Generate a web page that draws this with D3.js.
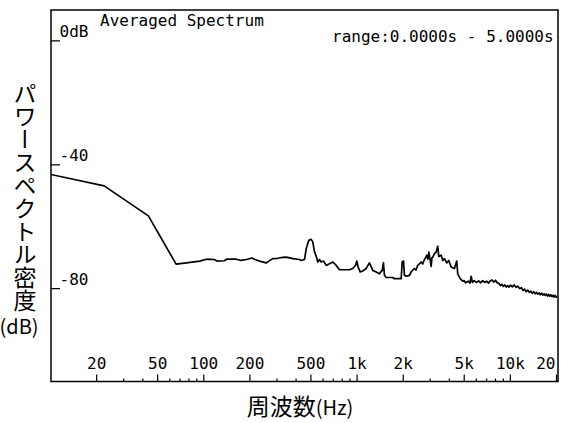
<!DOCTYPE html>
<html lang="ja">
<head>
<meta charset="utf-8">
<title>Averaged Spectrum</title>
<script src="https://cdn.jsdelivr.net/npm/d3@7"></script>
<style>
    html, body { margin: 0; padding: 0; background: #fff; }
    svg { display: block; }
    .mono { font-family: "DejaVu Sans Mono", monospace; font-size: 16px; fill: #000; }
    .jp { font-family: "Noto Sans CJK JP", sans-serif; fill: #000; }
</style>
</head>
<body>
<div id="chart"></div>
<script>
//--------------------------------------------------
// data
//--------------------------------------------------

// spectrum (frequency in Hz / level in dB)
const spectrumFreq = [
    10, 22.4, 43.5, 66, 77, 94, 104, 117, 122, 136, 141, 163, 175, 190, 206, 216, 231, 255, 272, 282,
    302, 336, 353, 381, 421, 432, 454, 466, 484, 502, 514, 528, 541, 554, 568, 583, 604, 629, 660, 695,
    731, 768, 892, 937, 977, 996, 1016, 1047, 1089, 1145, 1204, 1235, 1265, 1333, 1400, 1458, 1486, 1509, 1549, 1710,
    1754, 1940, 1969, 2009, 2037, 2089, 2197, 2253, 2366, 2420, 2488, 2550, 2618, 2680, 2752, 2800, 2851, 2900, 2938, 3000,
    3044, 3080, 3119, 3199, 3281, 3361, 3411, 3538, 3624, 3717, 3846, 3963, 4108, 4316, 4470, 4536, 4707, 4893,
    5000, 5100, 5300, 5450, 5548, 5650, 5800, 6000, 6200, 6400, 6600, 6800, 7000, 7200, 7400, 7600, 7800, 8000,
    8200, 8400, 8600, 8800, 9000, 9200, 9400, 9600, 9800, 10000, 10300, 10600, 10900, 11200, 11500, 11800, 12100, 12400,
    12700, 13000, 13300, 13600, 13900, 14200, 14500, 14800, 15100, 15400, 15700, 16000, 16300, 16600, 16900, 17200, 17500, 17800,
    18100, 18400, 18700, 19000, 19300, 19600, 19900, 20000
];
const spectrumDb = [
    -43.1, -46.8, -56.5, -72.1, -71.7, -71.1, -70.5, -70.6, -71.1, -71.0, -70.5, -70.5, -70.9, -70.6, -70.1, -70.6, -71.1, -71.7, -70.8, -70.3,
    -70.2, -69.8, -69.9, -70.3, -70.6, -70.9, -70.6, -67.1, -64.4, -64.1, -64.9, -68.2, -69.5, -71.4, -70.6, -71.4, -71.1, -72.5, -72.0, -71.4,
    -72.5, -73.9, -73.9, -73.5, -72.5, -71.1, -73.0, -74.6, -74.3, -73.5, -71.7, -72.8, -74.1, -74.6, -75.2, -74.1, -71.7, -75.7, -76.4, -76.4,
    -76.8, -76.8, -71.4, -71.1, -75.7, -76.0, -75.7, -74.6, -73.5, -74.0, -72.5, -72.0, -71.4, -72.0, -70.6, -70.0, -69.2, -70.5, -68.2, -70.9,
    -72.8, -70.0, -69.8, -68.7, -68.2, -66.3, -69.6, -69.2, -70.9, -70.3, -71.7, -70.9, -73.0, -73.5, -71.1, -75.2, -76.8, -77.6,
    -77.4, -78.1, -77.6, -78.2, -76.0, -78.0, -77.4, -78.0, -77.5, -78.1, -77.4, -78.0, -77.6, -78.2, -77.5, -77.2, -77.9, -77.3,
    -78.1, -78.3, -79.0, -78.6, -79.3, -78.8, -79.5, -79.0, -79.5, -78.9, -79.4, -78.8, -79.6, -79.2, -80.0, -79.7, -80.6, -80.2,
    -81.0, -80.5, -81.2, -80.8, -81.5, -81.0, -81.7, -81.2, -81.8, -81.4, -82.0, -81.5, -82.1, -81.7, -82.2, -81.8, -82.4, -81.9,
    -82.5, -82.0, -82.6, -82.1, -82.7, -82.2, -82.8, -82.3
];

// axis ticks (last label is cut to "20" at the frame in the original)
const xMajorTicks = [20, 50, 100, 200, 500, 1000, 2000, 5000, 10000, 20000];
const xMajorLabels = ["20", "50", "100", "200", "500", "1k", "2k", "5k", "10k", "20"];
const xMinorTicks = [30, 40, 60, 70, 80, 90, 300, 400, 600, 700, 800, 900, 3000, 4000, 6000, 7000, 8000, 9000];
const yTicks = [0, -40, -80];
const yTickLabels = ["0dB", "-40", "-80"];

const chartTitle = "Averaged Spectrum";
const rangeText = "range:0.0000s - 5.0000s";
const yTitle = "パワースペクトル密度";
const yUnit = "(dB)";
const xTitle = "周波数";
const xUnit = "(Hz)";

//--------------------------------------------------
// draw
//--------------------------------------------------

const width = 561;
const height = 423;
const frame = { left: 51, right: 558, top: 10, bottom: 381.5 };

const svg = d3.select("#chart")
    .append("svg")
    .attr("width", width)
    .attr("height", height);

const x = d3.scaleLog().domain([10, 20000]).range([50.5, 556.5]);
const y = d3.scaleLinear().domain([-110, 10]).range([frame.bottom, frame.top]);

svg.append("defs").append("clipPath")
    .attr("id", "plot-clip")
    .append("rect")
    .attr("x", frame.left)
    .attr("y", frame.top)
    .attr("width", frame.right - frame.left)
    .attr("height", frame.bottom - frame.top);

// frame
svg.append("rect")
    .attr("x", frame.left)
    .attr("y", frame.top)
    .attr("width", frame.right - frame.left)
    .attr("height", frame.bottom - frame.top)
    .attr("fill", "#fff")
    .attr("stroke", "#000")
    .attr("stroke-width", 1.5);

const plot = svg.append("g").attr("clip-path", "url(#plot-clip)");

// x ticks (inside, pointing up)
plot.selectAll(".xmajor")
    .data(xMajorTicks)
    .enter()
    .append("line")
    .attr("x1", d => x(d))
    .attr("x2", d => x(d))
    .attr("y1", frame.bottom)
    .attr("y2", frame.bottom - 7)
    .attr("stroke", "#000")
    .attr("stroke-width", 1.2);

plot.selectAll(".xminor")
    .data(xMinorTicks)
    .enter()
    .append("line")
    .attr("x1", d => x(d))
    .attr("x2", d => x(d))
    .attr("y1", frame.bottom)
    .attr("y2", frame.bottom - 3)
    .attr("stroke", "#000")
    .attr("stroke-width", 1.2);

const lastTick = xMajorTicks[xMajorTicks.length - 1];

svg.selectAll(".xlabel")
    .data(xMajorTicks)
    .enter()
    .append("text")
    .attr("class", "mono")
    .attr("x", d => d === lastTick ? x(d) - 1 : x(d))
    .attr("y", 369)
    .attr("text-anchor", d => d === lastTick ? "end" : "middle")
    .text((d, i) => xMajorLabels[i]);

// y ticks
plot.selectAll(".ytick")
    .data(yTicks)
    .enter()
    .append("line")
    .attr("x1", frame.left)
    .attr("x2", frame.left + 9)
    .attr("y1", d => y(d))
    .attr("y2", d => y(d))
    .attr("stroke", "#000")
    .attr("stroke-width", 1.2);

plot.selectAll(".ylabel")
    .data(yTicks)
    .enter()
    .append("text")
    .attr("class", "mono")
    .attr("x", 59.5)
    .attr("y", d => y(d) - 3.5)
    .text((d, i) => yTickLabels[i]);

// spectrum line
const points = spectrumFreq.map((f, i) => ({ f: f, db: spectrumDb[i] }));

const line = d3.line()
    .x(d => x(d.f))
    .y(d => y(d.db));

plot.append("path")
    .datum(points)
    .attr("d", line)
    .attr("fill", "none")
    .attr("stroke", "#000")
    .attr("stroke-width", 1.7)
    .attr("stroke-linejoin", "round");

// texts in the plot
svg.append("text")
    .attr("class", "mono")
    .attr("x", 100)
    .attr("y", 25.5)
    .text(chartTitle);

svg.append("text")
    .attr("class", "mono")
    .attr("x", 332)
    .attr("y", 41.5)
    .text(rangeText);

// axis titles
svg.append("text")
    .attr("class", "jp")
    .attr("x", 25)
    .attr("y", 82)
    .style("writing-mode", "vertical-rl")
    .style("font-size", "23px")
    .text(yTitle);

svg.append("text")
    .attr("class", "jp")
    .attr("x", 19)
    .attr("y", 334)
    .attr("text-anchor", "middle")
    .style("font-size", "20px")
    .text(yUnit);

const xt = svg.append("text")
    .attr("class", "jp")
    .attr("x", 300)
    .attr("y", 415)
    .attr("text-anchor", "middle")
    .style("font-size", "23px");
xt.append("tspan").text(xTitle);
xt.append("tspan").style("font-size", "20px").text(xUnit);
</script>
</body>
</html>
